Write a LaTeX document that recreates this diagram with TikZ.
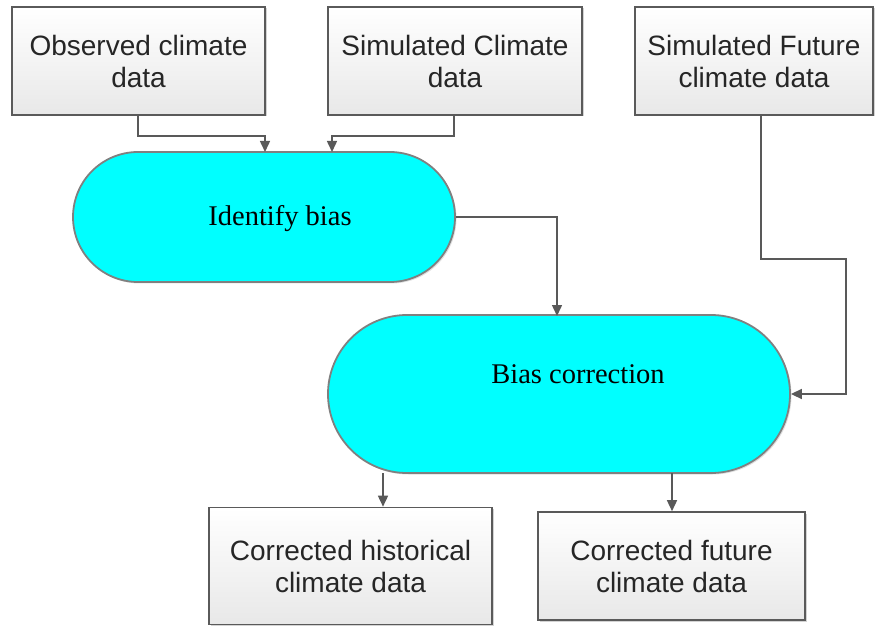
\documentclass[tikz,border=0pt]{standalone}
\usepackage{fontspec}
\setmainfont{Liberation Serif}
\newfontfamily\boxfont{Liberation Sans}
\usetikzlibrary{arrows.meta,shapes.misc,shadows}
\definecolor{edge}{HTML}{5A5A5A}
\definecolor{conn}{HTML}{595959}
\definecolor{term}{HTML}{808080}
\definecolor{txt}{HTML}{262626}
\definecolor{aqua}{RGB}{0,255,255}
\tikzset{
  databox/.style={rectangle, draw=edge, line width=1.6pt, top color=white, bottom color=black!9,
    drop shadow={shadow xshift=1.5pt, shadow yshift=-1.5pt, opacity=0.35},
    align=center, text=txt, font=\boxfont\fontsize{28}{32}\selectfont, inner sep=0pt},
  termbox/.style={rounded rectangle, draw=term, line width=1.8pt, fill=aqua,
    drop shadow={shadow xshift=1.5pt, shadow yshift=-1.5pt, opacity=0.25}},
  termtext/.style={font=\fontsize{28.5}{32}\selectfont, text=black},
  conn/.style={draw=conn, line width=1.5pt, -{Triangle[length=11pt,width=10pt]}},
}
\begin{document}
\begin{tikzpicture}[x=1pt,y=-1pt]
\useasboundingbox (0,0) rectangle (875,628);
\begin{scope}
\clip (0,0) rectangle (875,628);
\node[databox, minimum width=253pt, minimum height=108pt] (obs) at (138.5,61) {Observed climate\\data};
\node[databox, minimum width=254pt, minimum height=108pt] (sim) at (455,61) {Simulated Climate\\data};
\node[databox, minimum width=238pt, minimum height=108pt] (fut) at (754,61) {Simulated Future\\climate data};
\node[databox, minimum width=283pt, minimum height=117pt] (hist) at (350.5,566) {Corrected historical\\climate data};
\node[databox, minimum width=267pt, minimum height=108pt] (cfut) at (671.5,566) {Corrected future\\climate data};

\node[termbox, minimum width=382pt, minimum height=130pt, inner sep=0pt] (idb) at (264,217) {};
\node[termtext] at ([xshift=16pt,yshift=-2pt]idb.center) {Identify bias};
\node[termbox, minimum width=462pt, minimum height=158pt, inner sep=0pt] (bc) at (559,394) {};
\node[termtext] at ([xshift=19pt,yshift=20pt]bc.center) {Bias correction};

\coordinate (j1) at (138,136);
\coordinate (j2) at (454,136);
\draw[conn] (obs.south -| j1) -- (j1) -- (265,136) -- (265,152);
\draw[conn] (sim.south -| j2) -- (j2) -- (332,136) -- (332,152);
\draw[conn] (idb.east) -- (557,217) -- (557,316);
\draw[conn] (fut.south -| 761,0) -- (761,259) -- (846,259) -- (846,394) -- (bc.east);
\draw[conn] (383,473) -- (hist.north -| 383,0);
\draw[conn] (672,473) -- (cfut.north -| 672,0);
\end{scope}
\end{tikzpicture}
\end{document}
